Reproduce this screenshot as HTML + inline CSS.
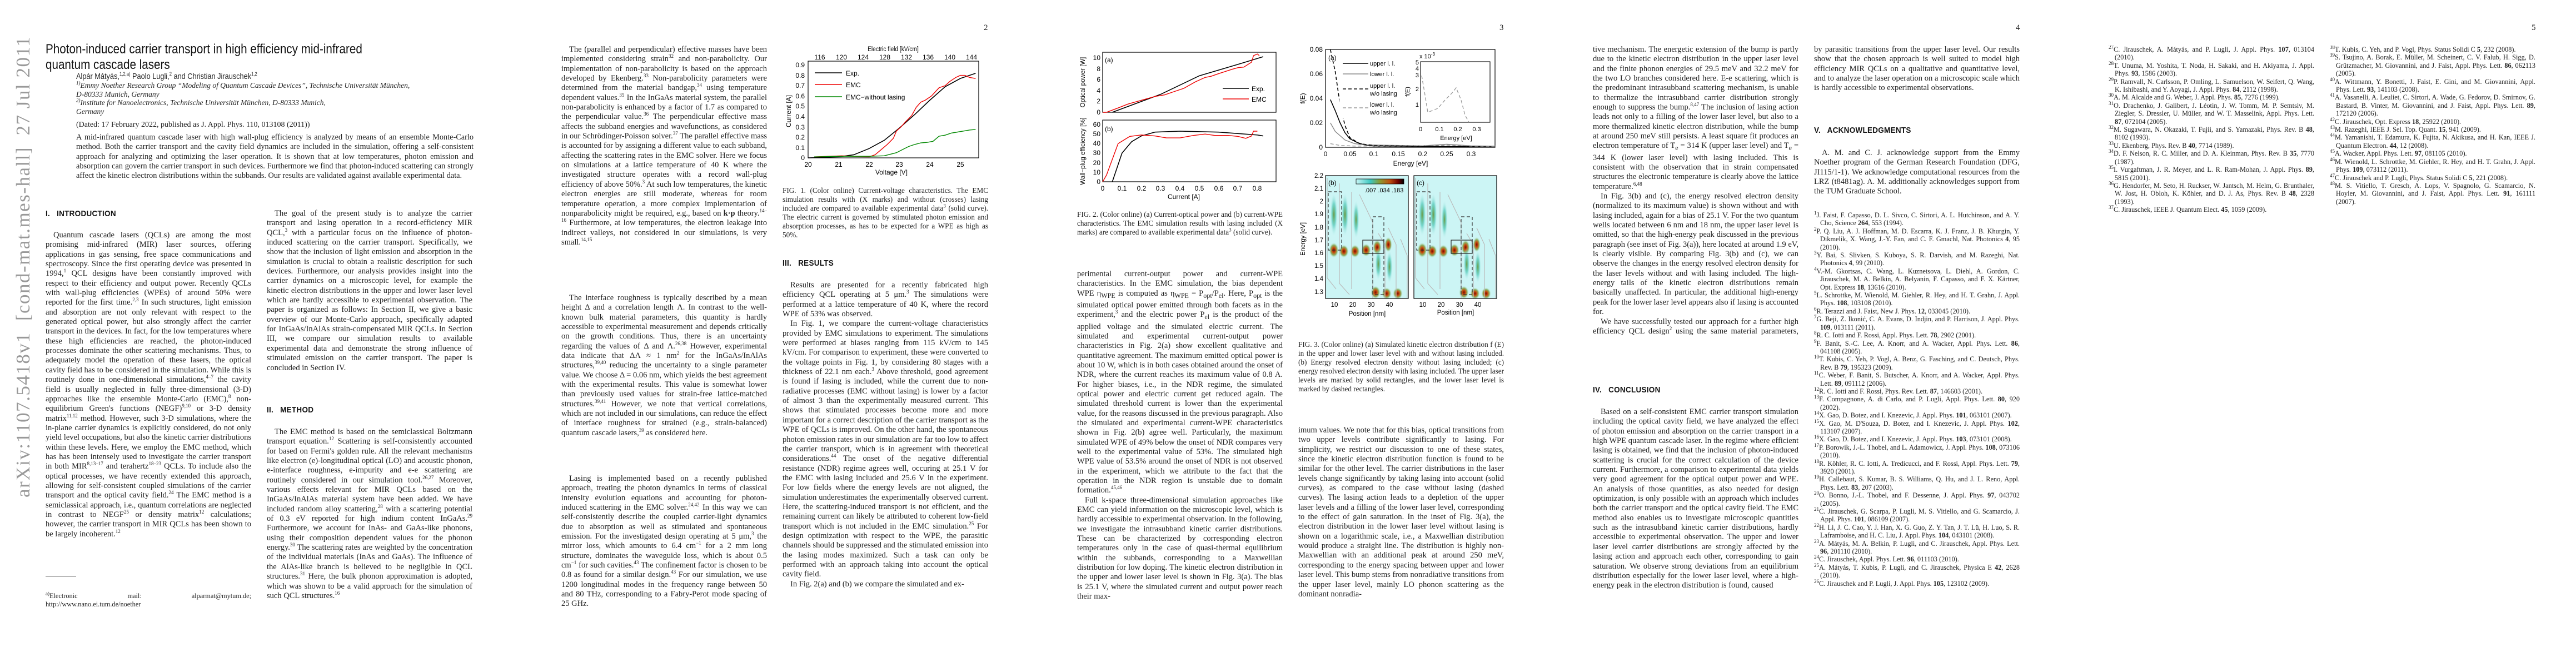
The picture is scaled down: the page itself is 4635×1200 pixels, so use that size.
<!DOCTYPE html>
<html><head><meta charset="utf-8">
<style>
html,body{margin:0;padding:0;background:#fff}
body{width:4635px;height:1200px;position:relative;overflow:hidden;font-family:"Liberation Serif",serif;color:#222}
.c{position:absolute;width:370px;font-size:14.5px;line-height:17.35px;text-align:justify;overflow:hidden;hyphens:auto}
.c p{margin:0;text-indent:14px}
.c p.n{text-indent:0}
.h{position:absolute;font-family:"Liberation Sans",sans-serif;font-size:15px;font-weight:bold;letter-spacing:.3px;color:#111;transform:scaleX(.9);transform-origin:left}
.cap{position:absolute;width:370px;font-size:13.2px;line-height:16px;text-align:justify;overflow:hidden}
.ref{position:absolute;width:370px;font-size:12.3px;line-height:14.4px;text-align:justify;overflow:hidden}
.ref div{padding-left:11px;text-indent:-11px}
.pn{position:absolute;top:42px;font-size:15px}
sup{font-size:9px;line-height:0}
</style></head><body>

<div style="position:absolute;left:22px;top:245px;width:40px;height:650px;">
<div style="position:absolute;left:0;top:650px;transform:rotate(-90deg);transform-origin:0 0;white-space:nowrap;font-size:35px;color:#999;letter-spacing:1.5px;line-height:40px">arXiv:1107.5418v1&nbsp; [cond-mat.mes-hall]&nbsp; 27 Jul 2011</div>
</div>

<!-- PAGE 1 -->
<div style="position:absolute;left:82px;top:75px;width:760px;font-family:'Liberation Sans',sans-serif;font-size:24px;line-height:28px;color:#111;transform:scaleX(.86);transform-origin:left">Photon-induced carrier transport in high efficiency mid-infrared quantum cascade lasers</div>
<div style="position:absolute;left:137px;top:129px;font-family:'Liberation Sans',sans-serif;font-size:15px;transform:scaleX(.85);transform-origin:left;white-space:nowrap">Alpár Mátyás,<sup>1,2,a)</sup> Paolo Lugli,<sup>2</sup> and Christian Jirauschek<sup>1,2</sup></div>
<div style="position:absolute;left:137px;top:146px;width:700px;font-size:13.5px;line-height:15.5px;font-style:italic"><sup>1)</sup>Emmy Noether Research Group “Modeling of Quantum Cascade Devices”, Technische Universität München,<br>D-80333 Munich, Germany<br><sup>2)</sup>Institute for Nanoelectronics, Technische Universität München, D-80333 Munich,<br>Germany</div>
<div style="position:absolute;left:137px;top:217px;font-size:14px">(Dated: 17 February 2022, published as J. Appl. Phys. 110, 013108 (2011))</div>
<div class="c" style="left:137px;top:239px;width:715px;height:110px;font-size:14.3px"><p class="n">A mid-infrared quantum cascade laser with high wall-plug efficiency is analyzed by means of an ensemble Monte-Carlo method. Both the carrier transport and the cavity field dynamics are included in the simulation, offering a self-consistent approach for analyzing and optimizing the laser operation. It is shown that at low temperatures, photon emission and absorption can govern the carrier transport in such devices. Furthermore we find that photon-induced scattering can strongly affect the kinetic electron distributions within the subbands. Our results are validated against available experimental data.</p></div>

<div class="h" style="left:82px;top:376px">I.&nbsp;&nbsp; INTRODUCTION</div>
<div class="c" style="left:82px;top:415px;height:609px"><p>Quantum cascade lasers (QCLs) are among the most promising mid-infrared (MIR) laser sources, offering applications in gas sensing, free space communications and spectroscopy. Since the first operating device was presented in 1994,<sup>1</sup> QCL designs have been constantly improved with respect to their efficiency and output power. Recently QCLs with wall-plug efficiencies (WPEs) of around 50% were reported for the first time.<sup>2,3</sup> In such structures, light emission and absorption are not only relevant with respect to the generated optical power, but also strongly affect the carrier transport in the devices. In fact, for the low temperatures where these high efficiencies are reached, the photon-induced processes dominate the other scattering mechanisms. Thus, to adequately model the operation of these lasers, the optical cavity field has to be considered in the simulation. While this is routinely done in one-dimensional simulations,<sup>4–7</sup> the cavity field is usually neglected in fully three-dimensional (3-D) approaches like the ensemble Monte-Carlo (EMC),<sup>8</sup> non-equilibrium Green's functions (NEGF)<sup>9,10</sup> or 3-D density matrix<sup>11,12</sup> method. However, such 3-D simulations, where the in-plane carrier dynamics is explicitly considered, do not only yield level occupations, but also the kinetic carrier distributions within these levels. Here, we employ the EMC method, which has has been intensely used to investigate the carrier transport in both MIR<sup>8,13–17</sup> and terahertz<sup>18–23</sup> QCLs. To include also the optical processes, we have recently extended this approach, allowing for self-consistent coupled simulations of the carrier transport and the optical cavity field.<sup>24</sup> The EMC method is a semiclassical approach, i.e., quantum correlations are neglected in contrast to NEGF<sup>25</sup> or density matrix<sup>12</sup> calculations; however, the carrier transport in MIR QCLs has been shown to be largely incoherent.<sup>12</sup></p></div>
<div style="position:absolute;left:82px;top:1036px;width:55px;border-top:1.5px solid #222"></div>
<div style="position:absolute;left:82px;top:1065px;width:370px;font-size:12.3px;line-height:15px;text-align:justify;text-align-last:justify"><sup>a)</sup>Electronic mail: alparmat@mytum.de;</div>
<div style="position:absolute;left:82px;top:1080px;font-size:12.3px;line-height:15px">http://www.nano.ei.tum.de/noether</div>

<div class="c" style="left:480px;top:376px;height:312px"><p>The goal of the present study is to analyze the carrier transport and lasing operation in a record-efficiency MIR QCL,<sup>3</sup> with a particular focus on the influence of photon-induced scattering on the carrier transport. Specifically, we show that the inclusion of light emission and absorption in the simulation is crucial to obtain a realistic description for such devices. Furthermore, our analysis provides insight into the carrier dynamics on a microscopic level, for example the kinetic electron distributions in the upper and lower laser level which are hardly accessible to experimental observation. The paper is organized as follows: In Section II, we give a basic overview of our Monte-Carlo approach, specifically adapted for InGaAs/InAlAs strain-compensated MIR QCLs. In Section III, we compare our simulation results to available experimental data and demonstrate the strong influence of stimulated emission on the carrier transport. The paper is concluded in Section IV.</p></div>
<div class="h" style="left:480px;top:729px">II.&nbsp;&nbsp; METHOD</div>
<div class="c" style="left:480px;top:769px;height:330px"><p>The EMC method is based on the semiclassical Boltzmann transport equation.<sup>12</sup> Scattering is self-consistently accounted for based on Fermi's golden rule. All the relevant mechanisms like electron (e)-longitudinal optical (LO) and acoustic phonon, e-interface roughness, e-impurity and e-e scattering are routinely considered in our simulation tool.<sup>26,27</sup> Moreover, various effects relevant for MIR QCLs based on the InGaAs/InAlAs material system have been added. We have included random alloy scattering,<sup>28</sup> with a scattering potential of 0.3 eV reported for high indium content InGaAs.<sup>29</sup> Furthermore, we account for InAs- and GaAs-like phonons, using their composition dependent values for the phonon energy.<sup>30</sup> The scattering rates are weighted by the concentration of the individual materials (InAs and GaAs). The influence of the AlAs-like branch is believed to be negligible in QCL structures.<sup>31</sup> Here, the bulk phonon approximation is adopted, which was shown to be a valid approach for the simulation of such QCL structures.<sup>16</sup></p></div>

<!-- PAGE 2 -->
<div class="pn" style="left:1770px">2</div>
<div class="c" style="left:1010px;top:81px;height:399px"><p>The (parallel and perpendicular) effective masses have been implemented considering strain<sup>32</sup> and non-parabolicity. Our implementation of non-parabolicity is based on the approach developed by Ekenberg.<sup>33</sup> Non-parabolicity parameters were determined from the material bandgap,<sup>34</sup> using temperature dependent values.<sup>35</sup> In the InGaAs material system, the parallel non-parabolicity is enhanced by a factor of 1.7 as compared to the perpendicular value.<sup>36</sup> The perpendicular effective mass affects the subband energies and wavefunctions, as considered in our Schrödinger-Poisson solver.<sup>37</sup> The parallel effective mass is accounted for by assigning a different value to each subband, affecting the scattering rates in the EMC solver. Here we focus on simulations at a lattice temperature of 40 K where the investigated structure operates with a record wall-plug efficiency of above 50%.<sup>3</sup> At such low temperatures, the kinetic electron energies are still moderate, whereas for room temperature operation, a more complex implementation of nonparabolicity might be required, e.g., based on <b>k·p</b> theory.<sup>14–16</sup> Furthermore, at low temperatures, the electron leakage into indirect valleys, not considered in our simulations, is very small.<sup>14,15</sup></p></div>
<div class="c" style="left:1010px;top:528px;height:278px"><p>The interface roughness is typically described by a mean height Δ and a correlation length Λ. In contrast to the well-known bulk material parameters, this quantity is hardly accessible to experimental measurement and depends critically on the growth conditions. Thus, there is an uncertainty regarding the values of Δ and Λ.<sup>26,38</sup> However, experimental data indicate that ΔΛ ≈ 1 nm<sup>2</sup> for the InGaAs/InAlAs structures,<sup>39,40</sup> reducing the uncertainty to a single parameter value. We choose Δ = 0.06 nm, which yields the best agreement with the experimental results. This value is somewhat lower than previously used values for strain-free lattice-matched structures.<sup>39,41</sup> However, we note that vertical correlations, which are not included in our simulations, can reduce the effect of interface roughness for strained (e.g., strain-balanced) quantum cascade lasers,<sup>39</sup> as considered here.</p></div>
<div class="c" style="left:1010px;top:853px;height:245px"><p>Lasing is implemented based on a recently published approach, treating the photon dynamics in terms of classical intensity evolution equations and accounting for photon-induced scattering in the EMC solver.<sup>24,42</sup> In this way we can self-consistently describe the coupled carrier-light dynamics due to absorption as well as stimulated and spontaneous emission. For the investigated design operating at 5 μm,<sup>3</sup> the mirror loss, which amounts to 6.4 cm<sup>−1</sup> for a 2 mm long structure, dominates the waveguide loss, which is about 0.5 cm<sup>−1</sup> for such cavities.<sup>43</sup> The confinement factor is chosen to be 0.8 as found for a similar design.<sup>43</sup> For our simulation, we use 1200 longitudinal modes in the frequency range between 50 and 80 THz, corresponding to a Fabry-Perot mode spacing of 25 GHz.</p></div>

<div class="cap" style="left:1408px;top:335px;height:100px"><p style="margin:0">FIG. 1. (Color online) Current-voltage characteristics. The EMC simulation results with (X marks) and without (crosses) lasing included are compared to available experimental data<sup>3</sup> (solid curve). The electric current is governed by stimulated photon emission and absorption processes, as has to be expected for a WPE as high as 50%.</p></div>
<div class="h" style="left:1408px;top:465px">III.&nbsp;&nbsp; RESULTS</div>
<div class="c" style="left:1408px;top:505px;height:594px"><p>Results are presented for a recently fabricated high efficiency QCL operating at 5 μm.<sup>3</sup> The simulations were performed at a lattice temperature of 40 K, where the record WPE of 53% was observed.</p><p>In Fig. 1, we compare the current-voltage characteristics provided by EMC simulations to experiment. The simulations were performed at biases ranging from 115 kV/cm to 145 kV/cm. For comparison to experiment, these were converted to the voltage points in Fig. 1, by considering 80 stages with a thickness of 22.1 nm each.<sup>3</sup> Above threshold, good agreement is found if lasing is included, while the current due to non-radiative processes (EMC without lasing) is lower by a factor of almost 3 than the experimentally measured current. This shows that stimulated processes become more and more important for a correct description of the carrier transport as the WPE of QCLs is improved. On the other hand, the spontaneous photon emission rates in our simulation are far too low to affect the carrier transport, which is in agreement with theoretical considerations.<sup>44</sup> The onset of the negative differential resistance (NDR) regime agrees well, occuring at 25.1 V for the EMC with lasing included and 25.6 V in the experiment. For low fields where the energy levels are not aligned, the simulation underestimates the experimentally observed current. Here, the scattering-induced transport is not efficient, and the remaining current can likely be attributed to coherent low-field transport which is not included in the EMC simulation.<sup>25</sup> For design optimization with respect to the WPE, the parasitic channels should be suppressed and the stimulated emission into the lasing modes maximized. Such a task can only be performed with an approach taking into account the optical cavity field.</p><p>In Fig. 2(a) and (b) we compare the simulated and ex-</p></div>

<!-- PAGE 3 -->
<div class="pn" style="left:2698px">3</div>
<div class="cap" style="left:1938px;top:378px;height:66px"><p style="margin:0">FIG. 2. (Color online) (a) Current-optical power and (b) current-WPE characteristics. The EMC simulation results with lasing included (X marks) are compared to available experimental data<sup>3</sup> (solid curve).</p></div>
<div class="c" style="left:1938px;top:485px;height:612px"><p class="n">perimental current-output power and current-WPE characteristics. In the EMC simulation, the bias dependent WPE η<sub>WPE</sub> is computed as η<sub>WPE</sub> = P<sub>opt</sub>/P<sub>el</sub>. Here, P<sub>opt</sub> is the simulated optical power emitted through both facets as in the experiment,<sup>3</sup> and the electric power P<sub>el</sub> is the product of the applied voltage and the simulated electric current. The simulated and experimental current-output power characteristics in Fig. 2(a) show excellent qualitative and quantitative agreement. The maximum emitted optical power is about 10 W, which is in both cases obtained around the onset of NDR, where the current reaches its maximum value of 0.8 A. For higher biases, i.e., in the NDR regime, the simulated optical power and electric current get reduced again. The simulated threshold current is lower than the experimental value, for the reasons discussed in the previous paragraph. Also the simulated and experimental current-WPE characteristics shown in Fig. 2(b) agree well. Particularly, the maximum simulated WPE of 49% below the onset of NDR compares very well to the experimental value of 53%. The simulated high WPE value of 53.5% around the onset of NDR is not observed in the experiment, which we attribute to the fact that the operation in the NDR region is unstable due to domain formation.<sup>45,46</sup></p><p>Full k-space three-dimensional simulation approaches like EMC can yield information on the microscopic level, which is hardly accessible to experimental observation. In the following, we investigate the intrasubband kinetic carrier distributions. These can be characterized by corresponding electron temperatures only in the case of quasi-thermal equilibrium within the subbands, corresponding to a Maxwellian distribution for low doping. The kinetic electron distribution in the upper and lower laser level is shown in Fig. 3(a). The bias is 25.1 V, where the simulated current and output power reach their max-</p></div>
<div class="cap" style="left:2336px;top:612px;height:115px"><p style="margin:0">FIG. 3. (Color online) (a) Simulated kinetic electron distribution f (E) in the upper and lower laser level with and without lasing included. (b) Energy resolved electron density without lasing included; (c) energy resolved electron density with lasing included. The upper laser levels are marked by solid rectangles, and the lower laser level is marked by dashed rectangles.</p></div>
<div class="c" style="left:2336px;top:766px;height:332px"><p class="n">imum values. We note that for this bias, optical transitions from two upper levels contribute significantly to lasing. For simplicity, we restrict our discussion to one of these states, since the kinetic electron distribution function is found to be similar for the other level. The carrier distributions in the laser levels change significantly by taking lasing into account (solid curves), as compared to the case without lasing (dashed curves). The lasing action leads to a depletion of the upper laser levels and a filling of the lower laser level, corresponding to the effect of gain saturation. In the inset of Fig. 3(a), the electron distribution in the lower laser level without lasing is shown on a logarithmic scale, i.e., a Maxwellian distribution would produce a straight line. The distribution is highly non-Maxwellian with an additional peak at around 250 meV, corresponding to the energy spacing between upper and lower laser level. This bump stems from nonradiative transitions from the upper laser level, mainly LO phonon scattering as the dominant nonradia-</p></div>

<!-- PAGE 4 -->
<div class="pn" style="left:3627px">4</div>
<div class="c" style="left:2866px;top:81px;height:522px"><p class="n">tive mechanism. The energetic extension of the bump is partly due to the kinetic electron distribution in the upper laser level and the finite phonon energies of 29.5 meV and 32.2 meV for the two LO branches considered here. E-e scattering, which is the predominant intrasubband scattering mechanism, is unable to thermalize the intrasubband carrier distribution strongly enough to suppress the bump.<sup>8,47</sup> The inclusion of lasing action leads not only to a filling of the lower laser level, but also to a more thermalized kinetic electron distribution, while the bump at around 250 meV still persists. A least square fit produces an electron temperature of T<sub>e</sub> = 314 K (upper laser level) and T<sub>e</sub> = 344 K (lower laser level) with lasing included. This is consistent with the observation that in strain compensated structures the electronic temperature is clearly above the lattice temperature.<sup>6,48</sup></p><p>In Fig. 3(b) and (c), the energy resolved electron density (normalized to its maximum value) is shown without and with lasing included, again for a bias of 25.1 V. For the two quantum wells located between 6 nm and 18 nm, the upper laser level is omitted, so that the high-energy peak discussed in the previous paragraph (see inset of Fig. 3(a)), here located at around 1.9 eV, is clearly visible. By comparing Fig. 3(b) and (c), we can observe the changes in the energy resolved electron density for the laser levels without and with lasing included. The high-energy tails of the kinetic electron distributions remain basically unaffected. In particular, the additional high-energy peak for the lower laser level appears also if lasing is accounted for.</p><p>We have successfully tested our approach for a further high efficiency QCL design<sup>2</sup> using the same material parameters, again finding good agreement with experiment.</p></div>
<div class="h" style="left:2866px;top:693px">IV.&nbsp;&nbsp; CONCLUSION</div>
<div class="c" style="left:2866px;top:733px;height:365px"><p>Based on a self-consistent EMC carrier transport simulation including the optical cavity field, we have analyzed the effect of photon emission and absorption on the carrier transport in a high WPE quantum cascade laser. In the regime where efficient lasing is obtained, we find that the inclusion of photon-induced scattering is crucial for the correct calculation of the device current. Furthermore, a comparison to experimental data yields very good agreement for the optical output power and WPE. An analysis of those quantities, as also needed for design optimization, is only possible with an approach which includes both the carrier transport and the optical cavity field. The EMC method also enables us to investigate microscopic quantities such as the intrasubband kinetic carrier distributions, hardly accessible to experimental observation. The upper and lower laser level carrier distributions are strongly affected by the lasing action and approach each other, corresponding to gain saturation. We observe strong deviations from an equilibrium distribution especially for the lower laser level, where a high-energy peak in the electron distribution is found, caused</p></div>

<div class="c" style="left:3264px;top:81px;height:104px"><p class="n">by parasitic transitions from the upper laser level. Our results show that the chosen approach is well suited to model high efficiency MIR QCLs on a qualitative and quantitative level, and to analyze the laser operation on a microscopic scale which is hardly accessible to experimental observations.</p></div>
<div class="h" style="left:3264px;top:226px">V.&nbsp;&nbsp; ACKNOWLEDGMENTS</div>
<div class="c" style="left:3264px;top:267px;height:87px"><p>A. M. and C. J. acknowledge support from the Emmy Noether program of the German Research Foundation (DFG, JI115/1-1). We acknowledge computational resources from the LRZ (t8481ag). A. M. additionally acknowledges support from the TUM Graduate School.</p></div>
<div class="ref" style="left:3264px;top:380px;height:718px">
<div><sup>1</sup>J. Faist, F. Capasso, D. L. Sivco, C. Sirtori, A. L. Hutchinson, and A. Y. Cho, Science <b>264</b>, 553 (1994).</div>
<div><sup>2</sup>P. Q. Liu, A. J. Hoffman, M. D. Escarra, K. J. Franz, J. B. Khurgin, Y. Dikmelik, X. Wang, J.-Y. Fan, and C. F. Gmachl, Nat. Photonics <b>4</b>, 95 (2010).</div>
<div><sup>3</sup>Y. Bai, S. Slivken, S. Kuboya, S. R. Darvish, and M. Razeghi, Nat. Photonics <b>4</b>, 99 (2010).</div>
<div><sup>4</sup>V.-M. Gkortsas, C. Wang, L. Kuznetsova, L. Diehl, A. Gordon, C. Jirauschek, M. A. Belkin, A. Belyanin, F. Capasso, and F. X. Kärtner, Opt. Express <b>18</b>, 13616 (2010).</div>
<div><sup>5</sup>L. Schrottke, M. Wienold, M. Giehler, R. Hey, and H. T. Grahn, J. Appl. Phys. <b>108</b>, 103108 (2010).</div>
<div><sup>6</sup>R. Terazzi and J. Faist, New J. Phys. <b>12</b>, 033045 (2010).</div>
<div><sup>7</sup>G. Beji, Z. Ikonić, C. A. Evans, D. Indjin, and P. Harrison, J. Appl. Phys. <b>109</b>, 013111 (2011).</div>
<div><sup>8</sup>R. C. Iotti and F. Rossi, Appl. Phys. Lett. <b>78</b>, 2902 (2001).</div>
<div><sup>9</sup>F. Banit, S.-C. Lee, A. Knorr, and A. Wacker, Appl. Phys. Lett. <b>86</b>, 041108 (2005).</div>
<div><sup>10</sup>T. Kubis, C. Yeh, P. Vogl, A. Benz, G. Fasching, and C. Deutsch, Phys. Rev. B <b>79</b>, 195323 (2009).</div>
<div><sup>11</sup>C. Weber, F. Banit, S. Butscher, A. Knorr, and A. Wacker, Appl. Phys. Lett. <b>89</b>, 091112 (2006).</div>
<div><sup>12</sup>R. C. Iotti and F. Rossi, Phys. Rev. Lett. <b>87</b>, 146603 (2001).</div>
<div><sup>13</sup>F. Compagnone, A. di Carlo, and P. Lugli, Appl. Phys. Lett. <b>80</b>, 920 (2002).</div>
<div><sup>14</sup>X. Gao, D. Botez, and I. Knezevic, J. Appl. Phys. <b>101</b>, 063101 (2007).</div>
<div><sup>15</sup>X. Gao, M. D'Souza, D. Botez, and I. Knezevic, J. Appl. Phys. <b>102</b>, 113107 (2007).</div>
<div><sup>16</sup>X. Gao, D. Botez, and I. Knezevic, J. Appl. Phys. <b>103</b>, 073101 (2008).</div>
<div><sup>17</sup>P. Borowik, J.-L. Thobel, and L. Adamowicz, J. Appl. Phys. <b>108</b>, 073106 (2010).</div>
<div><sup>18</sup>R. Köhler, R. C. Iotti, A. Tredicucci, and F. Rossi, Appl. Phys. Lett. <b>79</b>, 3920 (2001).</div>
<div><sup>19</sup>H. Callebaut, S. Kumar, B. S. Williams, Q. Hu, and J. L. Reno, Appl. Phys. Lett. <b>83</b>, 207 (2003).</div>
<div><sup>20</sup>O. Bonno, J.-L. Thobel, and F. Dessenne, J. Appl. Phys. <b>97</b>, 043702 (2005).</div>
<div><sup>21</sup>C. Jirauschek, G. Scarpa, P. Lugli, M. S. Vitiello, and G. Scamarcio, J. Appl. Phys. <b>101</b>, 086109 (2007).</div>
<div><sup>22</sup>H. Li, J. C. Cao, Y. J. Han, X. G. Guo, Z. Y. Tan, J. T. Lü, H. Luo, S. R. Laframboise, and H. C. Liu, J. Appl. Phys. <b>104</b>, 043101 (2008).</div>
<div><sup>23</sup>A. Mátyás, M. A. Belkin, P. Lugli, and C. Jirauschek, Appl. Phys. Lett. <b>96</b>, 201110 (2010).</div>
<div><sup>24</sup>C. Jirauschek, Appl. Phys. Lett. <b>96</b>, 011103 (2010).</div>
<div><sup>25</sup>A. Mátyás, T. Kubis, P. Lugli, and C. Jirauschek, Physica E <b>42</b>, 2628 (2010).</div>
<div><sup>26</sup>C. Jirauschek and P. Lugli, J. Appl. Phys. <b>105</b>, 123102 (2009).</div>
</div>

<!-- PAGE 5 -->
<div class="pn" style="left:4555px">5</div>
<div class="ref" style="left:3794px;top:82px;height:320px">
<div><sup>27</sup>C. Jirauschek, A. Mátyás, and P. Lugli, J. Appl. Phys. <b>107</b>, 013104 (2010).</div>
<div><sup>28</sup>T. Unuma, M. Yoshita, T. Noda, H. Sakaki, and H. Akiyama, J. Appl. Phys. <b>93</b>, 1586 (2003).</div>
<div><sup>29</sup>P. Ramvall, N. Carlsson, P. Omling, L. Samuelson, W. Seifert, Q. Wang, K. Ishibashi, and Y. Aoyagi, J. Appl. Phys. <b>84</b>, 2112 (1998).</div>
<div><sup>30</sup>A. M. Alcalde and G. Weber, J. Appl. Phys. <b>85</b>, 7276 (1999).</div>
<div><sup>31</sup>O. Drachenko, J. Galibert, J. Léotin, J. W. Tomm, M. P. Semtsiv, M. Ziegler, S. Dressler, U. Müller, and W. T. Masselink, Appl. Phys. Lett. <b>87</b>, 072104 (2005).</div>
<div><sup>32</sup>M. Sugawara, N. Okazaki, T. Fujii, and S. Yamazaki, Phys. Rev. B <b>48</b>, 8102 (1993).</div>
<div><sup>33</sup>U. Ekenberg, Phys. Rev. B <b>40</b>, 7714 (1989).</div>
<div><sup>34</sup>D. F. Nelson, R. C. Miller, and D. A. Kleinman, Phys. Rev. B <b>35</b>, 7770 (1987).</div>
<div><sup>35</sup>I. Vurgaftman, J. R. Meyer, and L. R. Ram-Mohan, J. Appl. Phys. <b>89</b>, 5815 (2001).</div>
<div><sup>36</sup>G. Hendorfer, M. Seto, H. Ruckser, W. Jantsch, M. Helm, G. Brunthaler, W. Jost, H. Obloh, K. Köhler, and D. J. As, Phys. Rev. B <b>48</b>, 2328 (1993).</div>
<div><sup>37</sup>C. Jirauschek, IEEE J. Quantum Elect. <b>45</b>, 1059 (2009).</div>
</div>
<div class="ref" style="left:4192px;top:82px;height:305px">
<div><sup>38</sup>T. Kubis, C. Yeh, and P. Vogl, Phys. Status Solidi C <b>5</b>, 232 (2008).</div>
<div><sup>39</sup>S. Tsujino, A. Borak, E. Müller, M. Scheinert, C. V. Falub, H. Sigg, D. Grützmacher, M. Giovannini, and J. Faist, Appl. Phys. Lett. <b>86</b>, 062113 (2005).</div>
<div><sup>40</sup>A. Wittmann, Y. Bonetti, J. Faist, E. Gini, and M. Giovannini, Appl. Phys. Lett. <b>93</b>, 141103 (2008).</div>
<div><sup>41</sup>A. Vasanelli, A. Leuliet, C. Sirtori, A. Wade, G. Fedorov, D. Smirnov, G. Bastard, B. Vinter, M. Giovannini, and J. Faist, Appl. Phys. Lett. <b>89</b>, 172120 (2006).</div>
<div><sup>42</sup>C. Jirauschek, Opt. Express <b>18</b>, 25922 (2010).</div>
<div><sup>43</sup>M. Razeghi, IEEE J. Sel. Top. Quant. <b>15</b>, 941 (2009).</div>
<div><sup>44</sup>M. Yamanishi, T. Edamura, K. Fujita, N. Akikusa, and H. Kan, IEEE J. Quantum Electron. <b>44</b>, 12 (2008).</div>
<div><sup>45</sup>A. Wacker, Appl. Phys. Lett. <b>97</b>, 081105 (2010).</div>
<div><sup>46</sup>M. Wienold, L. Schrottke, M. Giehler, R. Hey, and H. T. Grahn, J. Appl. Phys. <b>109</b>, 073112 (2011).</div>
<div><sup>47</sup>C. Jirauschek and P. Lugli, Phys. Status Solidi C <b>5</b>, 221 (2008).</div>
<div><sup>48</sup>M. S. Vitiello, T. Gresch, A. Lops, V. Spagnolo, G. Scamarcio, N. Hoyler, M. Giovannini, and J. Faist, Appl. Phys. Lett. <b>91</b>, 161111 (2007).</div>
</div>

<!-- FIGURES -->
<svg style="position:absolute;left:0;top:0" width="4635" height="1200" font-family="Liberation Sans, sans-serif">
<defs>
<linearGradient id="cb" x1="0" x2="1"><stop offset="0" stop-color="#c8f6f6"/><stop offset=".3" stop-color="#3cc8c0"/><stop offset=".5" stop-color="#8a9a30"/><stop offset=".7" stop-color="#c05010"/><stop offset=".88" stop-color="#700000"/><stop offset="1" stop-color="#000"/></linearGradient>
<radialGradient id="blob"><stop offset="0" stop-color="#7a0800"/><stop offset=".35" stop-color="#c85010"/><stop offset=".65" stop-color="#7aa040" stop-opacity=".8"/><stop offset="1" stop-color="#ccf5f5" stop-opacity="0"/></radialGradient>
<radialGradient id="gblob"><stop offset="0" stop-color="#6a9a40"/><stop offset=".5" stop-color="#50c8b8" stop-opacity=".7"/><stop offset="1" stop-color="#ccf5f5" stop-opacity="0"/></radialGradient>
</defs>

<!-- FIG 1 -->
<g font-size="12" fill="#000">
<rect x="1454" y="110" width="307" height="174" fill="none" stroke="#000" stroke-width="1.2"/>
<text x="1607" y="92" text-anchor="middle" transform="translate(1607 0) scale(.85 1) translate(-1607 0)">Electric field [kV/cm]</text>
<g text-anchor="middle">
<text x="1475" y="107">116</text><text x="1514" y="107">120</text><text x="1553" y="107">124</text><text x="1592" y="107">128</text><text x="1631" y="107">132</text><text x="1670" y="107">136</text><text x="1709" y="107">140</text><text x="1748" y="107">144</text>
<text x="1454" y="300">20</text><text x="1509" y="300">21</text><text x="1564" y="300">22</text><text x="1618" y="300">23</text><text x="1673" y="300">24</text><text x="1728" y="300">25</text>
<text x="1604" y="314">Voltage [V]</text>
</g>
<g text-anchor="end">
<text x="1448" y="288">0</text><text x="1448" y="270">0.1</text><text x="1448" y="251">0.2</text><text x="1448" y="233">0.3</text><text x="1448" y="214">0.4</text><text x="1448" y="195">0.5</text><text x="1448" y="177">0.6</text><text x="1448" y="158">0.7</text><text x="1448" y="140">0.8</text><text x="1448" y="121">0.9</text>
</g>
<text transform="translate(1423 200) rotate(-90)" text-anchor="middle">Current [A]</text>
<g transform="translate(358 284) scale(54.8 -185.5)" fill="none" vector-effect="non-scaling-stroke">
<polyline vector-effect="non-scaling-stroke" stroke="#000" stroke-width="1.6" points="20,0 21,0.01 21.5,0.03 22,0.09 22.5,0.17 23,0.29 23.5,0.42 24,0.56 24.5,0.69 25,0.77 25.5,0.82"/>
<polyline vector-effect="non-scaling-stroke" stroke="#e00" stroke-width="1.4" points="20.2,0.01 21.1,0.02 22,0.01 22.2,0.03 22.4,0.08 22.6,0.13 22.8,0.19 22.9,0.26 23.05,0.3 23.2,0.35 23.4,0.41 23.55,0.49 23.7,0.54 23.85,0.56 24.05,0.6 24.3,0.68 24.5,0.7 24.65,0.74 24.85,0.78 25,0.8 25.15,0.8 25.3,0.78 25.5,0.77"/>
<polyline vector-effect="non-scaling-stroke" stroke="#080" stroke-width="1.4" points="20.2,0.01 21,0.015 22,0.015 22.5,0.02 22.9,0.05 23.1,0.08 23.3,0.11 23.5,0.13 23.7,0.145 23.9,0.15 24.1,0.16 24.3,0.21 24.5,0.22 24.7,0.24 24.9,0.25 25.1,0.26 25.3,0.27 25.5,0.275"/>
</g>
<line x1="1466" y1="131" x2="1515" y2="131" stroke="#000" stroke-width="1.6"/>
<line x1="1466" y1="152" x2="1515" y2="152" stroke="#e00" stroke-width="1.4"/>
<line x1="1466" y1="174" x2="1515" y2="174" stroke="#080" stroke-width="1.4"/>
<text x="1522" y="136">Exp.</text><text x="1522" y="157">EMC</text><text x="1522" y="179">EMC−without lasing</text>
</g>

<!-- FIG 2 -->
<g font-size="12" fill="#000">
<rect x="1984" y="94" width="312" height="108" fill="none" stroke="#000" stroke-width="1.2"/>
<rect x="1984" y="216" width="312" height="111" fill="none" stroke="#000" stroke-width="1.2"/>
<text x="1988" y="112">(a)</text><text x="1988" y="236">(b)</text>
<g text-anchor="end">
<text x="1980" y="206">0</text><text x="1980" y="186">2</text><text x="1980" y="167">4</text><text x="1980" y="147">6</text><text x="1980" y="128">8</text><text x="1980" y="108">10</text>
<text x="1980" y="331">0</text><text x="1980" y="314">10</text><text x="1980" y="297">20</text><text x="1980" y="279">30</text><text x="1980" y="262">40</text><text x="1980" y="245">50</text><text x="1980" y="228">60</text>
</g>
<text transform="translate(1952 148) rotate(-90)" text-anchor="middle" font-size="11.5">Optical power [W]</text>
<text transform="translate(1952 272) rotate(-90)" text-anchor="middle" font-size="11.5">Wall−plug efficiency [%]</text>
<g text-anchor="middle">
<text x="1984" y="343">0</text><text x="2019" y="343">0.1</text><text x="2054" y="343">0.2</text><text x="2088" y="343">0.3</text><text x="2123" y="343">0.4</text><text x="2158" y="343">0.5</text><text x="2193" y="343">0.6</text><text x="2227" y="343">0.7</text><text x="2262" y="343">0.8</text>
<text x="2130" y="358">Current [A]</text>
</g>
<g transform="translate(1984 202) scale(348 -9.8)">
<polyline vector-effect="non-scaling-stroke" fill="none" stroke="#000" stroke-width="1.6" points="0.05,0 0.3,3.3 0.5,6.7 0.7,8.8 0.83,10.2"/>
<polyline vector-effect="non-scaling-stroke" fill="none" stroke="#e00" stroke-width="1.4" points="0,0 0.02,0 0.08,0.8 0.13,1.5 0.2,2.2 0.27,2.9 0.32,3.2 0.37,3.8 0.42,4.4 0.48,5.6 0.53,6.4 0.56,6.6 0.6,7.1 0.67,7.9 0.7,8.2 0.73,8.3 0.77,9.2 0.78,10.4 0.8,10.7 0.81,10.4"/>
</g>
<g transform="translate(1984 327) scale(348 -1.717)">
<polyline vector-effect="non-scaling-stroke" fill="none" stroke="#000" stroke-width="1.6" points="0.05,0 0.1,30 0.15,42 0.2,48 0.27,52 0.4,53 0.6,52 0.8,49 0.83,48"/>
<polyline vector-effect="non-scaling-stroke" fill="none" stroke="#e00" stroke-width="1.4" points="0,0 0.02,7 0.08,40 0.14,47.5 0.2,49 0.27,48 0.33,46 0.4,46 0.47,48.5 0.53,50 0.58,48.5 0.65,48.5 0.7,47.5 0.74,45.5 0.77,48 0.78,53 0.8,53"/>
</g>
<line x1="2200" y1="159" x2="2247" y2="159" stroke="#000" stroke-width="1.6"/>
<line x1="2200" y1="178" x2="2247" y2="178" stroke="#e00" stroke-width="1.4"/>
<text x="2252" y="164">Exp.</text><text x="2252" y="183">EMC</text>
</g>

<!-- FIG 3a -->
<g font-size="12" fill="#000">
<rect x="2385" y="89" width="305" height="176" fill="none" stroke="#000" stroke-width="1.2"/>
<text x="2390" y="108">(a)</text>
<g text-anchor="end">
<text x="2380" y="269">0</text><text x="2380" y="225">0.02</text><text x="2380" y="181">0.04</text><text x="2380" y="137">0.06</text><text x="2380" y="93">0.08</text>
</g>
<text transform="translate(2348 177) rotate(-90)" text-anchor="middle">f(E)</text>
<g text-anchor="middle">
<text x="2385" y="281">0</text><text x="2429" y="281">0.05</text><text x="2472" y="281">0.1</text><text x="2516" y="281">0.15</text><text x="2560" y="281">0.2</text><text x="2603" y="281">0.25</text><text x="2647" y="281">0.3</text>
<text x="2538" y="298">Energy [eV]</text>
</g>
<g transform="translate(2385 265) scale(873 -2200)" fill="none">
<polyline vector-effect="non-scaling-stroke" stroke="#000" stroke-width="1.6" points="0.01,0.039 0.02,0.03 0.03,0.02 0.04,0.012 0.05,0.007 0.065,0.004 0.08,0.002 0.1,0.001 0.35,0.0005"/>
<polyline vector-effect="non-scaling-stroke" stroke="#888" stroke-width="1.4" points="0.01,0.02 0.02,0.013 0.04,0.006 0.06,0.003 0.08,0.002 0.2,0.0012 0.25,0.0025 0.3,0.0012 0.35,0.001"/>
<polyline vector-effect="non-scaling-stroke" stroke="#000" stroke-width="1.6" stroke-dasharray="6 4" points="0.01,0.08 0.02,0.062 0.03,0.035 0.04,0.018 0.05,0.008 0.07,0.003 0.1,0.0015 0.35,0.0005"/>
<polyline vector-effect="non-scaling-stroke" stroke="#999" stroke-width="1.4" stroke-dasharray="6 4" points="0.01,0.003 0.03,0.0015 0.06,0.001 0.2,0.0012 0.25,0.002 0.3,0.001 0.35,0.0008"/>
</g>
<rect x="2410" y="94" width="80" height="118" fill="#fff"/>
<line x1="2416" y1="114" x2="2462" y2="114" stroke="#000" stroke-width="1.6"/>
<line x1="2416" y1="133" x2="2462" y2="133" stroke="#888" stroke-width="1.4"/>
<line x1="2416" y1="160" x2="2462" y2="160" stroke="#000" stroke-width="1.6" stroke-dasharray="6 4"/>
<line x1="2416" y1="194" x2="2462" y2="194" stroke="#999" stroke-width="1.4" stroke-dasharray="6 4"/>
<g font-size="11"><text x="2465" y="118">upper l. l.</text><text x="2465" y="137">lower l. l.</text><text x="2465" y="158">upper l. l.</text><text x="2465" y="172">w/o lasing</text><text x="2465" y="192">lower l. l.</text><text x="2465" y="206">w/o lasing</text></g>
<rect x="2556" y="111" width="125" height="109" fill="#fff" stroke="#000" stroke-width="1.1"/>
<polyline fill="none" stroke="#999" stroke-width="1.3" stroke-dasharray="6 4" points="2558,136 2563,165 2569,202 2577,199 2587,195 2600,180 2612,168 2620,158 2629,180 2636,207 2643,220"/>
<g font-size="11" text-anchor="end"><text x="2553" y="192">1</text><text x="2553" y="164">2</text><text x="2553" y="139">3</text><text x="2553" y="127">4</text><text x="2553" y="116">5</text></g>
<text x="2554" y="105" font-size="11">x 10<tspan dy="-5" font-size="8">-3</tspan></text>
<text transform="translate(2536 165) rotate(-90)" text-anchor="middle" font-size="11">f(E)</text>
<g text-anchor="middle" font-size="11"><text x="2556" y="236">0</text><text x="2590" y="236">0.1</text><text x="2623" y="236">0.2</text><text x="2657" y="236">0.3</text><text x="2620" y="252">Energy [eV]</text></g>
</g>

<!-- FIG 3b,c -->
<g font-size="12" fill="#000">
<g id="hm">
<rect x="2385" y="316" width="149" height="221" fill="#ccf5f5"/>
<ellipse cx="2400" cy="386" rx="7" ry="40" fill="url(#gblob)"/>
<ellipse cx="2420" cy="386" rx="7" ry="40" fill="url(#gblob)"/>
<ellipse cx="2440" cy="395" rx="6" ry="35" fill="url(#gblob)"/>
<ellipse cx="2400" cy="450" rx="9" ry="14" fill="url(#blob)"/>
<ellipse cx="2418" cy="452" rx="9" ry="12" fill="url(#blob)"/>
<ellipse cx="2438" cy="452" rx="9" ry="12" fill="url(#blob)"/>
<ellipse cx="2458" cy="450" rx="9" ry="12" fill="url(#blob)"/>
<ellipse cx="2478" cy="445" rx="8" ry="14" fill="url(#blob)"/>
<ellipse cx="2498" cy="440" rx="7" ry="14" fill="url(#blob)"/>
<ellipse cx="2480" cy="475" rx="6" ry="30" fill="url(#gblob)"/>
<ellipse cx="2500" cy="480" rx="6" ry="30" fill="url(#gblob)"/>
<ellipse cx="2475" cy="526" rx="9" ry="12" fill="url(#blob)"/>
<ellipse cx="2495" cy="528" rx="9" ry="11" fill="url(#blob)"/>
<ellipse cx="2515" cy="528" rx="9" ry="11" fill="url(#blob)"/>
<g fill="none" stroke="#bbb" stroke-width="1.2">
<polyline points="2388,320 2388,500 2404,520"/><polyline points="2410,330 2410,510 2428,530"/><polyline points="2432,345 2432,520"/><polyline points="2446,350 2470,400 2470,537"/><polyline points="2480,420 2492,440 2492,537"/><polyline points="2498,410 2512,440 2512,537"/><polyline points="2520,430 2532,460 2532,537"/>
</g>
<g fill="none" stroke="#333" stroke-width="1.2" stroke-dasharray="6 4">
<rect x="2390" y="345" width="24" height="105"/><rect x="2470" y="390" width="20" height="140"/>
</g>
<rect x="2452" y="432" width="38" height="24" fill="none" stroke="#222" stroke-width="1.2"/>
<rect x="2385" y="316" width="149" height="221" fill="none" stroke="#000" stroke-width="1.2"/>
</g>
<use href="#hm" transform="translate(159 0)"/>
<rect x="2440" y="322" width="86" height="9" fill="url(#cb)" stroke="#000" stroke-width=".8"/>
<text x="2455" y="346" font-size="11">.007 .034 .183</text>
<text x="2390" y="333">(b)</text><text x="2549" y="333">(c)</text>
<g text-anchor="end" font-size="11.5">
<text x="2381" y="320">2.2</text><text x="2381" y="343">2.1</text><text x="2381" y="366">2</text><text x="2381" y="389">1.9</text><text x="2381" y="413">1.8</text><text x="2381" y="436">1.7</text><text x="2381" y="459">1.6</text><text x="2381" y="482">1.5</text><text x="2381" y="505">1.4</text><text x="2381" y="529">1.3</text>
</g>
<text transform="translate(2348 430) rotate(-90)" text-anchor="middle" font-size="11.5">Energy [eV]</text>
<g text-anchor="middle" font-size="11.5">
<text x="2401" y="552">10</text><text x="2434" y="552">20</text><text x="2467" y="552">30</text><text x="2500" y="552">40</text>
<text x="2560" y="552">10</text><text x="2593" y="552">20</text><text x="2626" y="552">30</text><text x="2659" y="552">40</text>
<text x="2460" y="568">Position [nm]</text><text x="2619" y="566">Position [nm]</text>
</g>
</g>
</svg>
</body></html>
